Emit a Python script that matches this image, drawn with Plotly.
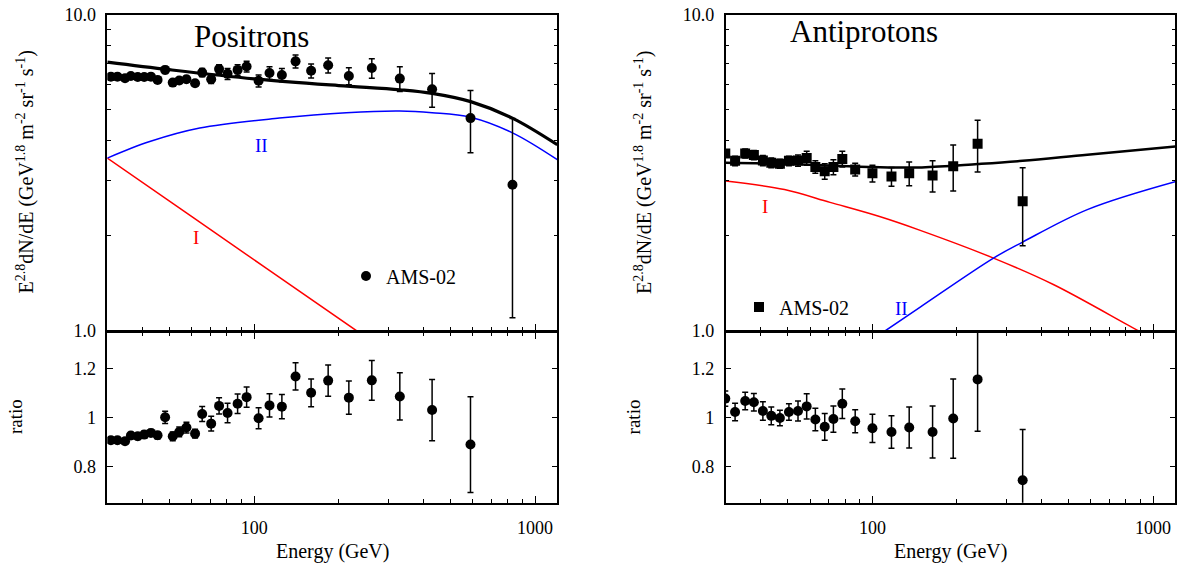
import math
import plotly.graph_objects as go

# ---------------- data ----------------
# Positrons (AMS-02)
pos_energy = [30.9, 32.6, 34.7, 36.4, 38.5, 40.6, 42.9, 45.3, 48.2, 51.3, 54.1, 57.4, 61.6, 65.3,
              70.3, 75.0, 80.4, 87.3, 94.0, 103.7, 113.4, 125.5, 140.4, 159.5, 183.4, 217.3,
              262.3, 330.0, 430.0, 589.0, 831.0]
pos_flux = [6.37, 6.37, 6.30, 6.40, 6.35, 6.35, 6.37, 6.22, 6.69, 6.10, 6.19, 6.25, 6.07, 6.56,
            6.25, 6.73, 6.50, 6.69, 6.86, 6.18, 6.54, 6.45, 7.12, 6.65, 6.92, 6.40,
            6.78, 6.28, 5.81, 4.71, 2.90]
pos_flux_err = [0.08, 0.08, 0.08, 0.08, 0.08, 0.08, 0.08, 0.08, 0.17, 0.12, 0.13, 0.14, 0.12, 0.20,
                0.19, 0.21, 0.26, 0.25, 0.27, 0.27, 0.30, 0.31, 0.34, 0.34, 0.38, 0.40,
                0.48, 0.56, 0.71, 1.05, 1.80]
pos_ratio = [0.907, 0.907, 0.903, 0.926, 0.923, 0.930, 0.937, 0.927, 1.001, 0.923, 0.941, 0.959,
             0.934, 1.015, 0.975, 1.048, 1.019, 1.057, 1.084, 0.997, 1.050, 1.045, 1.169, 1.102,
             1.152, 1.082, 1.153, 1.087, 1.031, 0.889]
pos_ratio_err = [0.012, 0.012, 0.012, 0.013, 0.013, 0.014, 0.014, 0.015, 0.025, 0.018, 0.020, 0.022,
                 0.018, 0.031, 0.030, 0.033, 0.040, 0.040, 0.042, 0.043, 0.048, 0.050, 0.056, 0.057,
                 0.064, 0.068, 0.082, 0.097, 0.126, 0.197]

pos_total_E = [30, 50, 100, 200, 330, 430, 590, 830, 1200]
pos_total = [7.08, 6.70, 6.27, 5.97, 5.79, 5.64, 5.31, 4.71, 3.88]
pos_II_E = [30, 42.5, 64, 123, 213, 330, 430, 589, 831, 1200]
pos_II = [3.52, 3.97, 4.38, 4.71, 4.90, 4.96, 4.90, 4.74, 4.23, 3.48]
pos_I_E = [30, 60, 232, 300]
pos_I = [3.52, 2.30, 1.00, 0.86]

# Antiprotons (AMS-02)
pbar_energy = [29.9, 32.4, 35.2, 37.8, 40.7, 43.6, 46.8, 50.4, 54.3, 58.3, 62.6, 67.6, 72.6, 78.1,
               86.8, 100.0, 116.9, 135.2, 163.8, 194.0, 237.0, 343.0]
pbar_flux = [3.64, 3.45, 3.64, 3.60, 3.46, 3.40, 3.38, 3.45, 3.46, 3.52, 3.30, 3.20, 3.30, 3.50,
             3.24, 3.15, 3.08, 3.15, 3.10, 3.32, 3.91, 2.57]
pbar_flux_err = [0.10, 0.12, 0.12, 0.12, 0.13, 0.12, 0.11, 0.12, 0.14, 0.18, 0.15, 0.18, 0.18, 0.20,
                 0.15, 0.19, 0.21, 0.27, 0.35, 0.55, 0.73, 0.71]
pbar_ratio = [1.078, 1.023, 1.068, 1.063, 1.027, 1.007, 0.998, 1.023, 1.027, 1.046, 0.992, 0.962,
              0.994, 1.057, 0.985, 0.956, 0.941, 0.959, 0.941, 0.996, 1.157, 0.742]
pbar_ratio_err = [0.031, 0.036, 0.036, 0.036, 0.038, 0.036, 0.032, 0.034, 0.041, 0.052, 0.046, 0.055,
                  0.054, 0.061, 0.047, 0.058, 0.067, 0.084, 0.107, 0.163, 0.213, 0.209]

pbar_total_E = [30, 50, 100, 150, 237, 343, 583, 1200]
pbar_total = [3.40, 3.37, 3.30, 3.29, 3.37, 3.45, 3.61, 3.83]
pbar_I_E = [30, 48.6, 70.6, 106, 148, 270, 443, 890, 1000]
pbar_I = [2.98, 2.80, 2.55, 2.30, 2.08, 1.70, 1.40, 1.00, 0.95]
pbar_II_E = [110.9, 148, 270, 343, 583, 1207]
pbar_II = [1.00, 1.19, 1.70, 1.91, 2.42, 2.97]

x_major = [100, 1000]
x_major_text = ["100", "1000"]
x_minor = [30, 40, 50, 60, 70, 80, 90, 200, 300, 400, 500, 600, 700, 800, 900]
y_top_ticks = [1, 10]
y_top_text = ["1.0", "10.0"]
y_top_minor = [2, 3, 4, 5, 6, 7, 8, 9]
y_bot_ticks = [0.8, 1.0, 1.2]
y_bot_text = ["0.8", "1", "1.2"]

# ---------------- figure ----------------
W, H = 1183, 569
FONT = "Liberation Serif, Times New Roman, serif"
RED = "#ff0000"
BLUE = "#0000ff"
LW = 1.5


def px(x):
    return x / W


def py(y):
    return 1 - y / H


fig = go.Figure()

err_style = dict(type="data", color="black", thickness=1.5, width=3)

# Positron top
fig.add_trace(go.Scatter(x=pos_I_E, y=pos_I, mode="lines", line=dict(color=RED, width=1.5, shape="spline"),
                         xaxis="x", yaxis="y", showlegend=False))
fig.add_trace(go.Scatter(x=pos_II_E, y=pos_II, mode="lines", line=dict(color=BLUE, width=1.5, shape="spline"),
                         xaxis="x", yaxis="y", showlegend=False))
fig.add_trace(go.Scatter(x=pos_total_E, y=pos_total, mode="lines", line=dict(color="black", width=3.2, shape="spline"),
                         xaxis="x", yaxis="y", showlegend=False))
fig.add_trace(go.Scatter(x=pos_energy, y=pos_flux, mode="markers", name="AMS-02",
                         marker=dict(symbol="circle", size=10, color="black"),
                         error_y=dict(array=pos_flux_err, **err_style),
                         xaxis="x", yaxis="y", showlegend=True, legend="legend"))
# Positron ratio
fig.add_trace(go.Scatter(x=pos_energy[:len(pos_ratio)], y=pos_ratio, mode="markers",
                         marker=dict(symbol="circle", size=10, color="black"),
                         error_y=dict(array=pos_ratio_err, **err_style),
                         xaxis="x2", yaxis="y2", showlegend=False))

# Antiproton top
fig.add_trace(go.Scatter(x=pbar_I_E, y=pbar_I, mode="lines", line=dict(color=RED, width=1.5, shape="spline"),
                         xaxis="x3", yaxis="y3", showlegend=False))
fig.add_trace(go.Scatter(x=pbar_II_E, y=pbar_II, mode="lines", line=dict(color=BLUE, width=1.5, shape="spline"),
                         xaxis="x3", yaxis="y3", showlegend=False))
fig.add_trace(go.Scatter(x=pbar_total_E, y=pbar_total, mode="lines", line=dict(color="black", width=2.5, shape="spline"),
                         xaxis="x3", yaxis="y3", showlegend=False))
fig.add_trace(go.Scatter(x=pbar_energy, y=pbar_flux, mode="markers", name="AMS-02",
                         marker=dict(symbol="square", size=10, color="black"),
                         error_y=dict(array=pbar_flux_err, **err_style),
                         xaxis="x3", yaxis="y3", showlegend=True, legend="legend2"))
# Antiproton ratio
fig.add_trace(go.Scatter(x=pbar_energy, y=pbar_ratio, mode="markers",
                         marker=dict(symbol="circle", size=10, color="black"),
                         error_y=dict(array=pbar_ratio_err, **err_style),
                         xaxis="x4", yaxis="y4", showlegend=False))

xr = [math.log10(30), math.log10(1200)]


def xaxis(domain, anchor, labels, mirror):
    return dict(type="log", range=xr, domain=domain, anchor=anchor, automargin=False,
                tickmode="array", tickvals=x_major, ticktext=x_major_text,
                showticklabels=labels, ticks="inside", ticklen=7, tickwidth=1.2, tickcolor="black",
                minor=dict(tickmode="array", tickvals=x_minor, ticks="inside", ticklen=4,
                           tickwidth=1.2, tickcolor="black", showgrid=False),
                showline=True, linecolor="black", linewidth=LW, mirror=mirror,
                showgrid=False, zeroline=False,
                tickfont=dict(family=FONT, size=18, color="black"), ticklabelstandoff=8)


def ytop(domain, anchor):
    return dict(type="log", range=[0, 1], domain=domain, anchor=anchor, automargin=False,
                tickmode="array", tickvals=y_top_ticks, ticktext=y_top_text,
                ticks="inside", ticklen=7, tickwidth=1.2, tickcolor="black",
                minor=dict(tickmode="array", tickvals=y_top_minor, ticks="inside", ticklen=4,
                           tickwidth=1.2, tickcolor="black", showgrid=False),
                showline=True, linecolor="black", linewidth=LW, mirror="ticks",
                showgrid=False, zeroline=False,
                tickfont=dict(family=FONT, size=18, color="black"), ticklabelstandoff=6)


def ybot(domain, anchor):
    return dict(type="linear", range=[0.65, 1.35], domain=domain, anchor=anchor, automargin=False,
                tickmode="array", tickvals=y_bot_ticks, ticktext=y_bot_text,
                ticks="inside", ticklen=6, tickwidth=1.2, tickcolor="black",
                showline=True, linecolor="black", linewidth=LW, mirror="ticks",
                showgrid=False, zeroline=False,
                tickfont=dict(family=FONT, size=18, color="black"), ticklabelstandoff=6)


L = [px(107.3), px(557.3)]
R = [px(725.7), px(1175.3)]
# axis lines sit half a line width outside the plot area; offset so the
# shared border between the two panels is drawn as a single line
TOP = [py(331.7 - LW / 2), py(14.7)]
BOT = [py(502.7), py(331.7 + LW / 2)]

fig.update_layout(
    template="none",
    width=W, height=H, autosize=False,
    margin=dict(l=0, r=0, t=0, b=0, pad=0, autoexpand=False),
    paper_bgcolor="white", plot_bgcolor="white",
    font=dict(family=FONT, size=18, color="black"),
    xaxis=xaxis(L, "y", False, True),
    yaxis=ytop(TOP, "x"),
    xaxis2=xaxis(L, "y2", True, "ticks"),
    yaxis2=ybot(BOT, "x2"),
    xaxis3=xaxis(R, "y3", False, True),
    yaxis3=ytop(TOP, "x3"),
    xaxis4=xaxis(R, "y4", True, "ticks"),
    yaxis4=ybot(BOT, "x4"),
    legend=dict(x=px(346), y=py(276), xanchor="left", yanchor="middle",
                bgcolor="rgba(0,0,0,0)", font=dict(family=FONT, size=20, color="black")),
    legend2=dict(x=px(739), y=py(307), xanchor="left", yanchor="middle",
                 bgcolor="rgba(0,0,0,0)", font=dict(family=FONT, size=20, color="black")),
    showlegend=True,
)

ytitle = "E<sup>2.8</sup>dN/dE (GeV<sup>1.8</sup> m<sup>-2</sup> sr<sup>-1</sup> s<sup>-1</sup>)"
ann = []


def add_text(x, y, text, size=20, color="black", angle=0):
    ann.append(dict(x=px(x), y=py(y), xref="paper", yref="paper", text=text, showarrow=False,
                    xanchor="center", yanchor="middle", textangle=angle,
                    font=dict(family=FONT, size=size, color=color)))


add_text(251.5, 37, "Positrons", size=31)
add_text(864, 31, "Antiprotons", size=31)
add_text(261, 146, "II", size=19, color=BLUE)
add_text(195.5, 237, "I", size=19, color=RED)
add_text(764.5, 207, "I", size=19, color=RED)
add_text(901, 308, "II", size=19, color=BLUE)
add_text(25, 172.5, ytitle, angle=-90)
add_text(643.4, 172.5, ytitle, angle=-90)
add_text(15, 417, "ratio", size=19, angle=-90)
add_text(633.4, 417, "ratio", size=19, angle=-90)
add_text(332.3, 551, "Energy (GeV)")
add_text(950.5, 551, "Energy (GeV)")
fig.update_layout(annotations=ann)

fig.write_html("out.html", config={"displayModeBar": False},
               post_script="document.body.style.margin='0px';")
